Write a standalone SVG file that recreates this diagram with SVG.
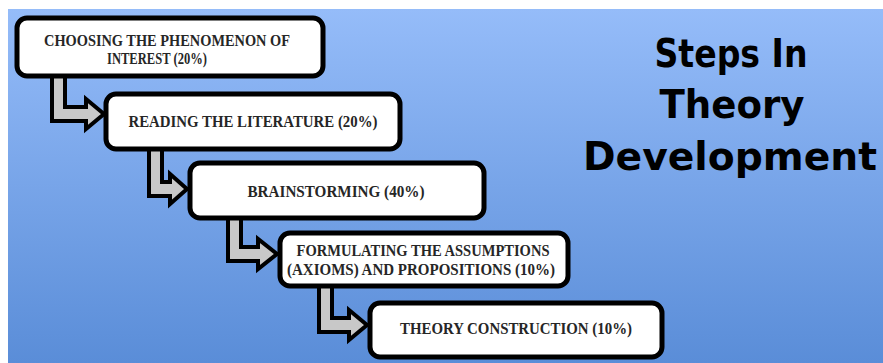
<svg xmlns="http://www.w3.org/2000/svg" width="883" height="363" viewBox="0 0 883 363">
  <defs>
    <linearGradient id="bg" x1="0" y1="0" x2="0" y2="1">
      <stop offset="0" stop-color="#95bcf9"/>
      <stop offset="1" stop-color="#5a8dd8"/>
    </linearGradient>
    <style>
      .box { fill: #ffffff; stroke: #000000; stroke-width: 5; }
      .arrow { fill: #c8c8c8; stroke: #000000; stroke-width: 4; stroke-linejoin: miter; }
      .lbl { font-family: "Liberation Serif", "DejaVu Serif", serif; font-weight: bold; font-size: 17.5px; fill: #262626; text-anchor: middle; }
      .title { font-family: "DejaVu Sans", "Noto Sans", sans-serif; font-weight: bold; font-size: 39px; fill: #000000; text-anchor: middle; }
    </style>
  </defs>
  <rect x="0" y="0" width="883" height="363" fill="#ffffff"/>
  <rect x="8" y="9" width="875" height="354" fill="url(#bg)"/>

  <g id="connectors">
    <polygon class="arrow" points="52,70 65,70 65,107 86,107 86,99 104,114 86,129 86,121 52,121"/>
    <polygon class="arrow" points="149,145 162,145 162,182 170,182 170,174 187,189 170,204 170,196 149,196"/>
    <polygon class="arrow" points="228,214 241,214 241,247 258,247 258,239 277,254 258,269 258,261 228,261"/>
    <polygon class="arrow" points="319,282 332,282 332,318 349,318 349,310 367,325 349,340 349,332 319,332"/>
  </g>

  <g id="step1">
    <rect class="box" x="17" y="18" width="306" height="58" rx="10"/>
    <text class="lbl" x="167" y="46" textLength="246" lengthAdjust="spacingAndGlyphs">CHOOSING THE PHENOMENON OF</text>
    <text class="lbl" x="157" y="64" textLength="100" lengthAdjust="spacingAndGlyphs">INTEREST (20%)</text>
  </g>
  <g id="step2">
    <rect class="box" x="106" y="94" width="294" height="55" rx="10"/>
    <text class="lbl" x="253" y="127" textLength="249" lengthAdjust="spacingAndGlyphs">READING THE LITERATURE (20%)</text>
  </g>
  <g id="step3">
    <rect class="box" x="190" y="163" width="294" height="55" rx="10"/>
    <text class="lbl" x="336" y="197" textLength="177" lengthAdjust="spacingAndGlyphs">BRAINSTORMING (40%)</text>
  </g>
  <g id="step4">
    <rect class="box" x="280" y="233" width="288" height="53" rx="10"/>
    <text class="lbl" x="423" y="256" textLength="253" lengthAdjust="spacingAndGlyphs">FORMULATING THE ASSUMPTIONS</text>
    <text class="lbl" x="421" y="275" textLength="268" lengthAdjust="spacingAndGlyphs">(AXIOMS) AND PROPOSITIONS (10%)</text>
  </g>
  <g id="step5">
    <rect class="box" x="370" y="303" width="292" height="54" rx="10"/>
    <text class="lbl" x="516" y="334" textLength="232" lengthAdjust="spacingAndGlyphs">THEORY CONSTRUCTION (10%)</text>
  </g>

  <g id="title">
    <text class="title" x="731" y="67" textLength="153" lengthAdjust="spacingAndGlyphs">Steps In</text>
    <text class="title" x="732" y="118" textLength="145" lengthAdjust="spacingAndGlyphs">Theory</text>
    <text class="title" x="730" y="170" textLength="294" lengthAdjust="spacingAndGlyphs">Development</text>
  </g>
</svg>
